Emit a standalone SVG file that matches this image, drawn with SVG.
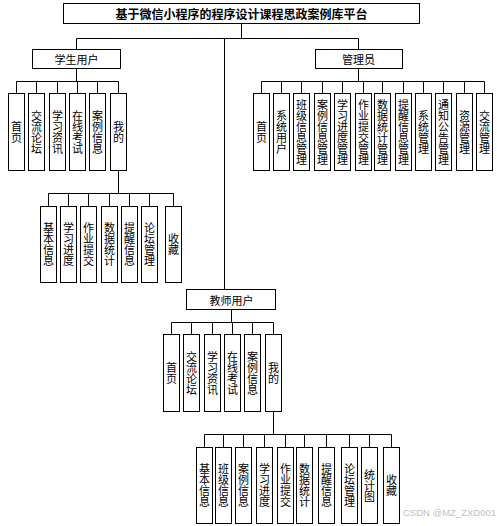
<svg xmlns="http://www.w3.org/2000/svg" width="497" height="526" viewBox="0 0 497 526">
<style>
.b{fill:#fff;stroke:#000;stroke-width:1}
.c{fill:none;stroke:#000;stroke-width:1}
.t{font-family:"Noto Sans CJK SC","Noto Sans CJK JP",sans-serif;font-size:11px;fill:#000;text-anchor:middle;dominant-baseline:central}
.v{font-family:"Noto Sans CJK SC","Noto Sans CJK JP",sans-serif;font-size:11px;fill:#000;text-anchor:middle;writing-mode:vertical-rl}
.h{font-weight:bold;font-size:12px}
.w{font-family:"Liberation Sans",Arial,sans-serif;font-size:9.5px;fill:#c0c0c0}
</style>
<rect width="497" height="526" fill="#fff"/>
<g id="connectors" class="c">
<path d="M241.5 23.5V38.5M76.5 38.5H358.5M76.5 38.5V49.5M358.5 38.5V49.5M224.5 38.5V289.5"/>
<path d="M76.5 68.5V81.5M16.5 81.5H118.5M16.5 81.5V93.5M36.5 81.5V93.5M57.5 81.5V93.5M77.5 81.5V93.5M97.5 81.5V93.5M118.5 81.5V93.5"/>
<path d="M118.5 170.5V193.5M48.5 193.5H173.5M48.5 193.5V206.5M68.5 193.5V206.5M88.5 193.5V206.5M109.5 193.5V206.5M129.5 193.5V206.5M149.5 193.5V206.5M173.5 193.5V206.5"/>
<path d="M358.5 68.5V81.5M261.5 81.5H484.5M261.5 81.5V93.5M281.5 81.5V93.5M301.5 81.5V93.5M322.5 81.5V93.5M342.5 81.5V93.5M363.5 81.5V93.5M382.5 81.5V93.5M403.5 81.5V93.5M423.5 81.5V93.5M443.5 81.5V93.5M464.5 81.5V93.5M484.5 81.5V93.5"/>
<path d="M231.5 309.5V322.5M171.5 322.5H273.5M171.5 322.5V334.5M191.5 322.5V334.5M212.5 322.5V334.5M232.5 322.5V334.5M252.5 322.5V334.5M273.5 322.5V334.5"/>
<path d="M273.5 411.5V434.5M204.5 434.5H391.5M204.5 434.5V447.5M223.5 434.5V447.5M243.5 434.5V447.5M264.5 434.5V447.5M285.5 434.5V447.5M304.5 434.5V447.5M326.5 434.5V447.5M349.5 434.5V447.5M369.5 434.5V447.5M391.5 434.5V447.5"/>
</g>
<g id="root"><rect class="b" x="63.5" y="3.5" width="356" height="20"/><text class="t h" x="241.5" y="13.5">基于微信小程序的程序设计课程思政案例库平台</text></g>
<g id="student"><rect class="b" x="32.5" y="49.5" width="88" height="19"/><text class="t" x="76.5" y="59">学生用户</text></g>
<g id="admin"><rect class="b" x="315.5" y="49.5" width="87" height="19"/><text class="t" x="358.5" y="59">管理员</text></g>
<g id="teacher"><rect class="b" x="186.5" y="289.5" width="89" height="20"/><text class="t" x="231.5" y="299.5">教师用户</text></g>

<g id="s1"><rect class="b" x="8.5" y="93.5" width="16" height="77"/><text class="v" x="16.5" y="132">首页</text></g>
<g id="s2"><rect class="b" x="28.5" y="93.5" width="16" height="77"/><text class="v" x="36.5" y="132">交流论坛</text></g>
<g id="s3"><rect class="b" x="49.5" y="93.5" width="16" height="77"/><text class="v" x="57.5" y="132">学习资讯</text></g>
<g id="s4"><rect class="b" x="69.5" y="93.5" width="16" height="77"/><text class="v" x="77.5" y="132">在线考试</text></g>
<g id="s5"><rect class="b" x="89.5" y="93.5" width="16" height="77"/><text class="v" x="97.5" y="132">案例信息</text></g>
<g id="s6"><rect class="b" x="110.5" y="93.5" width="16" height="77"/><text class="v" x="118.5" y="132">我的</text></g>

<g id="sm1"><rect class="b" x="40.5" y="206.5" width="16" height="76"/><text class="v" x="48.5" y="244.5">基本信息</text></g>
<g id="sm2"><rect class="b" x="60.5" y="206.5" width="16" height="76"/><text class="v" x="68.5" y="244.5">学习进度</text></g>
<g id="sm3"><rect class="b" x="80.5" y="206.5" width="16" height="76"/><text class="v" x="88.5" y="244.5">作业提交</text></g>
<g id="sm4"><rect class="b" x="101.5" y="206.5" width="16" height="76"/><text class="v" x="109.5" y="244.5">数据统计</text></g>
<g id="sm5"><rect class="b" x="121.5" y="206.5" width="16" height="76"/><text class="v" x="129.5" y="244.5">提醒信息</text></g>
<g id="sm6"><rect class="b" x="141.5" y="206.5" width="16" height="76"/><text class="v" x="149.5" y="244.5">论坛管理</text></g>
<g id="sm7"><rect class="b" x="165.5" y="206.5" width="16" height="76"/><text class="v" x="173.5" y="244.5">收藏</text></g>

<g id="a1"><rect class="b" x="253.5" y="93.5" width="16" height="77"/><text class="v" x="261.5" y="132">首页</text></g>
<g id="a2"><rect class="b" x="273.5" y="93.5" width="16" height="77"/><text class="v" x="281.5" y="132">系统用户</text></g>
<g id="a3"><rect class="b" x="293.5" y="93.5" width="16" height="77"/><text class="v" x="301.5" y="132">班级信息管理</text></g>
<g id="a4"><rect class="b" x="314.5" y="93.5" width="16" height="77"/><text class="v" x="322.5" y="132">案例信息管理</text></g>
<g id="a5"><rect class="b" x="334.5" y="93.5" width="16" height="77"/><text class="v" x="342.5" y="132">学习进度管理</text></g>
<g id="a6"><rect class="b" x="355.5" y="93.5" width="16" height="77"/><text class="v" x="363.5" y="132">作业提交管理</text></g>
<g id="a7"><rect class="b" x="374.5" y="93.5" width="16" height="77"/><text class="v" x="382.5" y="132">数据统计管理</text></g>
<g id="a8"><rect class="b" x="395.5" y="93.5" width="16" height="77"/><text class="v" x="403.5" y="132">提醒信息管理</text></g>
<g id="a9"><rect class="b" x="415.5" y="93.5" width="16" height="77"/><text class="v" x="423.5" y="132">系统管理</text></g>
<g id="a10"><rect class="b" x="435.5" y="93.5" width="16" height="77"/><text class="v" x="443.5" y="132">通知公告管理</text></g>
<g id="a11"><rect class="b" x="456.5" y="93.5" width="16" height="77"/><text class="v" x="464.5" y="132">资源管理</text></g>
<g id="a12"><rect class="b" x="476.5" y="93.5" width="16" height="77"/><text class="v" x="484.5" y="132">交流管理</text></g>

<g id="t1"><rect class="b" x="163.5" y="334.5" width="16" height="77"/><text class="v" x="171.5" y="373">首页</text></g>
<g id="t2"><rect class="b" x="183.5" y="334.5" width="16" height="77"/><text class="v" x="191.5" y="373">交流论坛</text></g>
<g id="t3"><rect class="b" x="204.5" y="334.5" width="16" height="77"/><text class="v" x="212.5" y="373">学习资讯</text></g>
<g id="t4"><rect class="b" x="224.5" y="334.5" width="16" height="77"/><text class="v" x="232.5" y="373">在线考试</text></g>
<g id="t5"><rect class="b" x="244.5" y="334.5" width="16" height="77"/><text class="v" x="252.5" y="373">案例信息</text></g>
<g id="t6"><rect class="b" x="265.5" y="334.5" width="16" height="77"/><text class="v" x="273.5" y="373">我的</text></g>

<g id="tm1"><rect class="b" x="196.5" y="447.5" width="16" height="76"/><text class="v" x="204.5" y="485.5">基本信息</text></g>
<g id="tm2"><rect class="b" x="215.5" y="447.5" width="16" height="76"/><text class="v" x="223.5" y="485.5">班级信息</text></g>
<g id="tm3"><rect class="b" x="235.5" y="447.5" width="16" height="76"/><text class="v" x="243.5" y="485.5">案例信息</text></g>
<g id="tm4"><rect class="b" x="256.5" y="447.5" width="16" height="76"/><text class="v" x="264.5" y="485.5">学习进度</text></g>
<g id="tm5"><rect class="b" x="277.5" y="447.5" width="16" height="76"/><text class="v" x="285.5" y="485.5">作业提交</text></g>
<g id="tm6"><rect class="b" x="296.5" y="447.5" width="16" height="76"/><text class="v" x="304.5" y="485.5">数据统计</text></g>
<g id="tm7"><rect class="b" x="318.5" y="447.5" width="16" height="76"/><text class="v" x="326.5" y="485.5">提醒信息</text></g>
<g id="tm8"><rect class="b" x="341.5" y="447.5" width="16" height="76"/><text class="v" x="349.5" y="485.5">论坛管理</text></g>
<g id="tm9"><rect class="b" x="361.5" y="447.5" width="16" height="76"/><text class="v" x="369.5" y="485.5">统计图</text></g>
<g id="tm10"><rect class="b" x="383.5" y="447.5" width="16" height="76"/><text class="v" x="391.5" y="485.5">收藏</text></g>

<text class="w" x="403" y="516">CSDN @MZ_ZXD001</text>
</svg>
